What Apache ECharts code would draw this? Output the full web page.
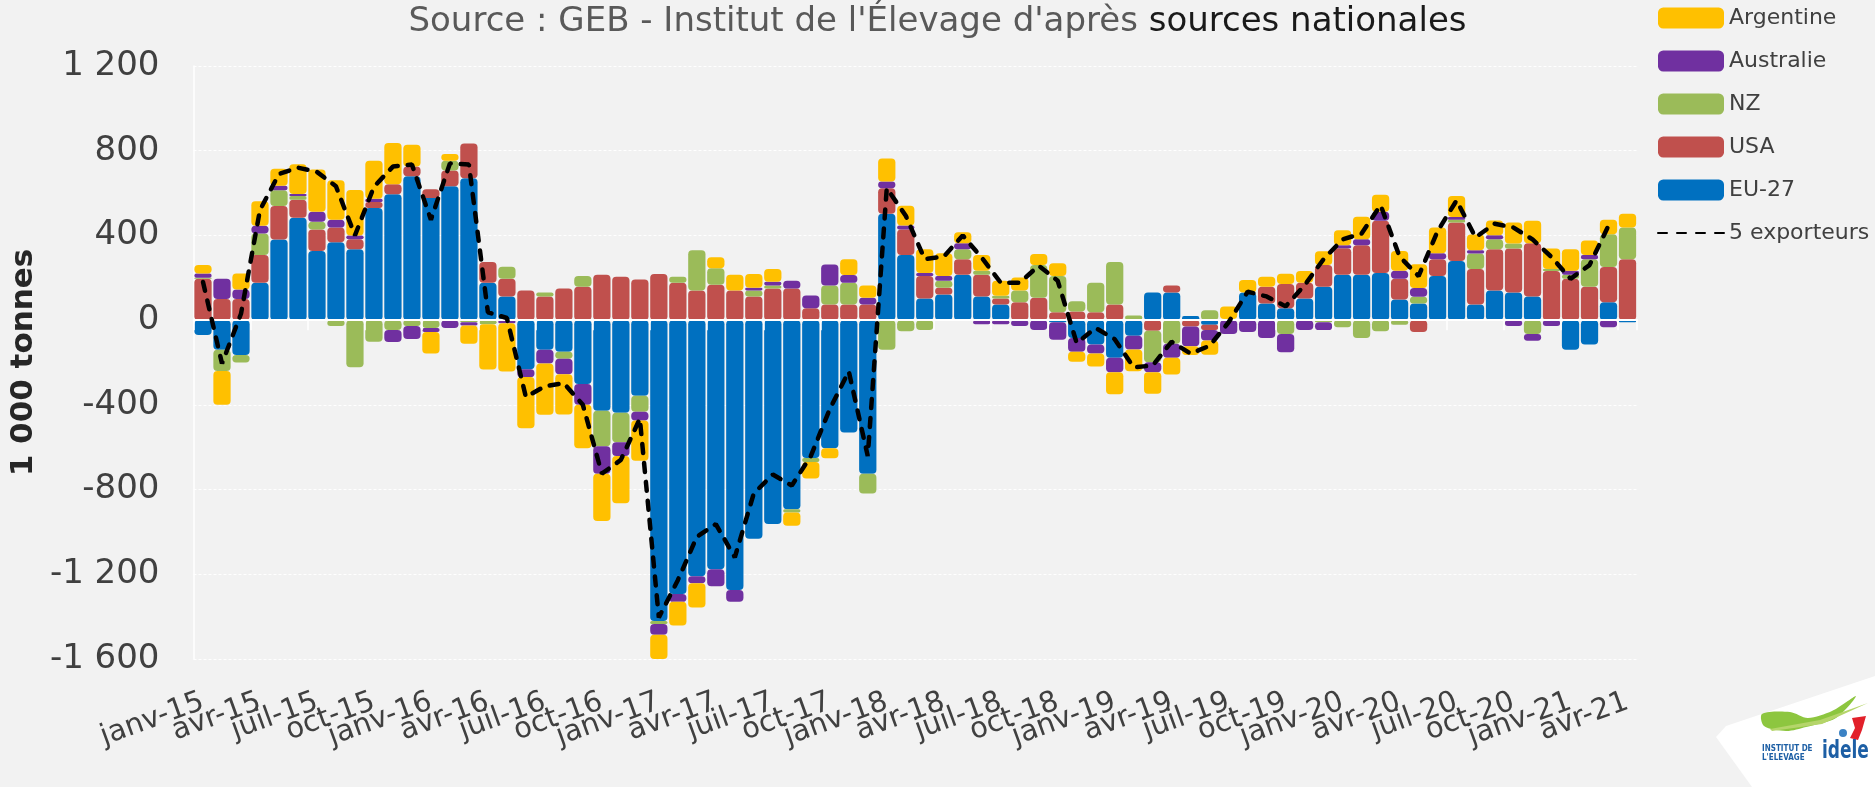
<!DOCTYPE html>
<html>
<head>
<meta charset="utf-8">
<script src="https://cdn.jsdelivr.net/npm/echarts@6/dist/echarts.min.js"></script>
<style>
  html, body { margin: 0; padding: 0; background: #f2f2f2; }
  #chart { width: 1875px; height: 787px; }
</style>
</head>
<body>
<div id="chart"></div>
<script>
// Monthly variation of beef exports (1 000 tonnes), janv-15 .. avr-21
const MONTHS = ['janv', 'févr', 'mars', 'avr', 'mai', 'juin', 'juil', 'août', 'sept', 'oct', 'nov', 'déc'];
const YEARS = ['15', '16', '17', '18', '19', '20', '21'];
const N_MONTHS = 76;
const categories = [];
YEARS.forEach(y => MONTHS.forEach(m => { if (categories.length < N_MONTHS) categories.push(m + '-' + y); }));

const yTicks = { min: -1600, max: 1200, interval: 400 };

const eu27 = [
  -70, -140, -165, 177, 381, 484, 326, 368, 335, 530, 595, 679,
  577, 632, 670, 177, 112, -232, -140, -149, -301, -428, -437, -357,
  -1420, -1293, -1209, -1176, -1274, -1032, -963, -893, -651, -605, -530, -725,
  502, 307, 102, 121, 214, 112, 74, 0, 0, -10, -84, -115,
  -177, -74, 130, 130, 19, -22, 5, 130, 78, 56, 102, 158,
  214, 214, 223, 97, 78, 208, 279, 74, 140, 130, 112, 0,
  -140, -115, 84, -10
];
const usa = [
  195, 100, 100, 130, 158, 84, 102, 69, 47, 28, 47, 47,
  41, 74, 164, 97, 84, 140, 112, 149, 158, 214, 205, 192,
  218, 177, 140, 167, 140, 112, 149, 149, 56, 74, 74, 74,
  121, 121, 106, 32, 74, 102, 28, 84, 106, 37, 41, 37,
  74, 0, -50, 33, -30, -24, 0, 0, 80, 115, 74, 102,
  125, 140, 246, 99, -56, 80, 182, 167, 195, 208, 251, 232,
  195, 158, 167, 288
];
const nz = [
  5, -100, -35, 102, 74, 18, 37, -28, -223, -102, -47, -28,
  -37, 47, -10, -19, 56, 0, 19, -33, 50, -167, -140, -76,
  -15, 28, 190, 78, 0, 28, 15, -15, -19, 89, 102, -93,
  -140, -52, -47, 33, 47, 19, 13, 56, 154, 171, 48, 140,
  201, 22, -149, -112, 0, 47, 0, 0, 0, -65, 0, -10,
  -33, -84, -52, -22, 33, 0, 13, 74, 47, 24, -65, 9,
  19, 130, 154, 149
];
const australie = [
  20, 95, 45, 37, 22, 10, 47, 37, 18, 15, -56, -61,
  -19, -37, -15, 0, -15, -37, -65, -74, -99, -130, -65, -41,
  -50, -37, -33, -80, -56, 13, 17, 37, 60, 100, 37, 32,
  32, 19, 15, 22, 28, -19, -19, -28, -47, -83, -65, -43,
  -69, -65, -47, -65, -93, -50, -65, -56, -84, -87, -47, -37,
  15, 28, 43, 37, 41, 28, 13, 15, 19, -28, -32, -28,
  19, 19, -33, 0
];
const argentine = [
  40, -160, 75, 115, 80, 140, 199, 186, 214, 180, 195, 102,
  -102, 32, -87, -214, -227, -242, -242, -190, -205, -223, -223, -190,
  -115, -112, -115, 52, 74, 65, 61, -63, -78, -47, 74, 58,
  108, 93, 112, 108, 52, 74, 71, 61, 52, 61, -47, -61,
  -104, -102, -102, -80, -41, -67, 60, 60, 47, 48, 56, 65,
  71, 106, 80, 93, 112, 121, 99, 74, 69, 99, 106, 97,
  102, 69, 69, 65
];
const total5 = [
  180, -205, 30, 520, 690, 720, 700, 632, 400, 630, 725, 735,
  474, 740, 735, 37, 10, -363, -312, -298, -400, -725, -660, -465,
  -1404, -1228, -1023, -963, -1120, -818, -729, -781, -642, -420, -242, -642,
  623, 493, 288, 300, 400, 295, 177, 177, 257, 186, -108, -37,
  -90, -223, -214, -102, -158, -121, -10, 134, 112, 65, 165, 288,
  381, 409, 543, 300, 208, 420, 565, 391, 455, 437, 381, 298,
  195, 260, 446, null
];

const FONT = 'DejaVu Sans';
const TEXT = '#404040';

function thousands(v) {
  const s = String(Math.abs(v)).replace(/\B(?=(\d{3})+(?!\d))/g, ' ');
  return (v < 0 ? '-' : '') + s;
}

function barSeries(name, data, color) {
  return {
    name: name,
    type: 'bar',
    stack: 'exports',
    data: data,
    barCategoryGap: '9%',
    itemStyle: { color: color, borderRadius: 4 },
    emphasis: { disabled: true }
  };
}

// Quarterly month labels, split over two label-only axes so neighbours never get culled
function labelAxis(offsetMonths) {
  return {
    type: 'category',
    data: categories,
    position: 'bottom',
    axisLine: { show: false, onZero: false },
    axisTick: { show: false },
    axisLabel: {
      interval: (i) => i % 6 === offsetMonths,
      rotate: 20,
      margin: 42,
      fontFamily: FONT,
      fontSize: 29,
      color: TEXT
    },
    splitLine: { show: false }
  };
}

const chart = echarts.init(document.getElementById('chart'), null, { renderer: 'canvas' });
chart.setOption({
  animation: false,
  backgroundColor: '#f2f2f2',
  textStyle: { fontFamily: FONT },
  title: {
    text: '{a|Source : GEB - Institut de l\'Élevage d\'après }{b|sources nationales}',
    left: 'center',
    top: 0,
    textStyle: {
      fontWeight: 'normal',
      rich: {
        a: { fontFamily: FONT, fontSize: 34, fontWeight: 'normal', color: '#595959' },
        b: { fontFamily: FONT, fontSize: 34, fontWeight: 'normal', color: '#1a1a1a' }
      }
    }
  },
  legend: {
    orient: 'vertical',
    left: 1657,
    top: 7,
    padding: 0,
    itemWidth: 66,
    itemHeight: 21,
    itemGap: 21,
    data: ['Argentine', 'Australie', 'NZ', 'USA', 'EU-27',
      { name: '5 exporteurs', itemStyle: { opacity: 0 } }],
    textStyle: { fontFamily: FONT, fontSize: 22, color: TEXT }
  },
  grid: { left: 192, right: 238, top: 66, bottom: 128 },
  xAxis: [
    labelAxis(0),
    {
      type: 'category',
      data: categories,
      position: 'bottom',
      z: 3,
      axisLine: { show: true, onZero: true, lineStyle: { color: '#ffffff', width: 2 } },
      axisTick: { show: true, interval: 2, length: 10, lineStyle: { color: '#ffffff', width: 1.5 } },
      axisLabel: { show: false },
      splitLine: { show: false }
    },
    labelAxis(3)
  ],
  yAxis: {
    type: 'value',
    min: yTicks.min,
    max: yTicks.max,
    interval: yTicks.interval,
    name: '1 000 tonnes',
    nameLocation: 'middle',
    nameRotate: 90,
    nameGap: 128,
    nameTextStyle: { fontFamily: FONT, fontSize: 31, fontWeight: 'bold', color: '#262626' },
    axisLine: { show: true, lineStyle: { color: '#ffffff', width: 1.5 } },
    axisTick: { show: false },
    axisLabel: {
      margin: 34,
      fontFamily: FONT,
      fontSize: 34,
      color: TEXT,
      formatter: thousands
    },
    splitLine: { show: true, lineStyle: { color: '#ffffff', width: 1, type: [3, 2] } }
  },
  series: [
    barSeries('EU-27', eu27, '#0070c0'),
    barSeries('USA', usa, '#c0504d'),
    barSeries('NZ', nz, '#9bbb59'),
    barSeries('Australie', australie, '#7030a0'),
    barSeries('Argentine', argentine, '#ffc000'),
    {
      name: '5 exporteurs',
      type: 'line',
      data: total5,
      z: 5,
      symbol: 'none',
      lineStyle: { color: '#000000', width: 4.5, type: [9, 10], cap: 'round' },
      itemStyle: { color: '#000000' },
      emphasis: { disabled: true }
    }
  ],
  graphic: [
    {
      type: 'polygon',
      shape: { points: [[1875, 676], [1726, 726], [1716, 737], [1752, 787], [1875, 787]] },
      style: { fill: '#ffffff' }
    },
    {
      type: 'polygon',
      shape: {
        smooth: 0.3,
        points: [[1762, 714], [1790, 712], [1808, 718], [1832, 711], [1856, 696], [1836, 718], [1806, 727], [1786, 731], [1764, 726]]
      },
      style: { fill: '#8dc63f' }
    },
    {
      type: 'polygon',
      shape: { points: [[1770, 729], [1820, 720], [1868, 703], [1822, 724], [1772, 731]] },
      style: { fill: '#b5d56a' }
    },
    {
      type: 'polygon',
      shape: { points: [[1852, 718], [1866, 716], [1862, 730], [1858, 740], [1850, 738], [1855, 728]] },
      style: { fill: '#e2202a' }
    },
    {
      type: 'circle',
      shape: { cx: 1843, cy: 733, r: 4 },
      style: { fill: '#3b82c4' }
    },
    {
      type: 'text',
      left: 1762, top: 745,
      style: { text: 'INSTITUT DE', fontFamily: 'DejaVu Sans Condensed', fontSize: 8, fontWeight: 'bold', fill: '#1d5fa5' }
    },
    {
      type: 'text',
      left: 1762, top: 754,
      style: { text: 'L\'ELEVAGE', fontFamily: 'DejaVu Sans Condensed', fontSize: 8, fontWeight: 'bold', fill: '#1d5fa5' }
    },
    {
      type: 'text',
      x: 1822, y: 739,
      scaleX: 0.68,
      style: { text: 'idele', fontFamily: FONT, fontSize: 25, fontWeight: 'bold', fill: '#1d5fa5', verticalAlign: 'top' }
    }
  ]
});
</script>
</body>
</html>
